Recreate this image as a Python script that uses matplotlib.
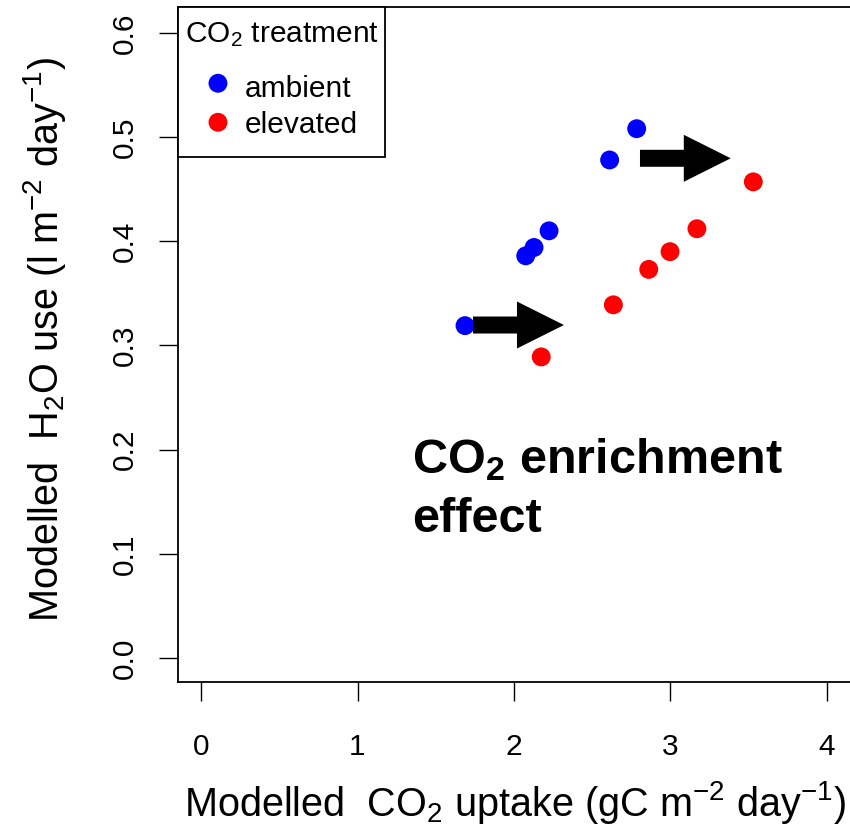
"""Modelled H2O use versus CO2 uptake, ambient vs elevated CO2"""

import matplotlib
matplotlib.use("Agg")
import matplotlib.pyplot as plt
from matplotlib.patches import Rectangle

plt.rcParams['font.family'] = ['Liberation Sans', 'DejaVu Sans']
plt.rcParams['mathtext.fontset'] = 'custom'
plt.rcParams['mathtext.rm'] = 'Liberation Sans'
plt.rcParams['mathtext.it'] = 'Liberation Sans:italic'
plt.rcParams['mathtext.bf'] = 'Liberation Sans:bold'

# data
amb_x = [1.687, 2.075, 2.128, 2.224, 2.611, 2.784]
amb_y = [0.319, 0.386, 0.394, 0.410, 0.478, 0.508]
elev_x = [2.174, 2.635, 2.861, 2.997, 3.169, 3.529]
elev_y = [0.289, 0.339, 0.373, 0.390, 0.412, 0.457]

# enrichment arrows: start x, end x, y
arrow_x0 = [1.738, 2.805]
arrow_x1 = [2.319, 3.385]
arrow_y = [0.3196, 0.4796]

xticks = [0, 1, 2, 3, 4]
yticks = [0.0, 0.1, 0.2, 0.3, 0.4, 0.5, 0.6]

groups = ['ambient', 'elevated']
colours = ['#0000ff', '#ff0000']


def main():
	fig = plt.figure(figsize=(8.5, 8.34), dpi=100)
	ax = fig.add_axes([178/850, 1-682/834, 672/850, 675/834])

	ax.scatter(amb_x, amb_y, s=185, color=colours[0], edgecolors='none', zorder=3)
	ax.scatter(elev_x, elev_y, s=185, color=colours[1], edgecolors='none', zorder=3)

	for x0, x1, y in zip(arrow_x0, arrow_x1, arrow_y):
		ax.arrow(x0, y, x1-x0, 0, width=0.0163, head_width=0.0451, head_length=0.30,
			length_includes_head=True, color='black', linewidth=0, zorder=4)

	ax.text(1.35, 0.177, r'CO$_\mathbf{2}$ enrichment', fontsize=35, fontweight='bold')
	ax.text(1.35, 0.121, 'effect', fontsize=35, fontweight='bold')

	ax.set_xlim(-0.147, 4.147)
	ax.set_ylim(-0.023, 0.6248)
	ax.set_xticks(xticks)
	ax.set_xticklabels([str(t) for t in xticks])
	ax.set_yticks(yticks)
	ax.set_yticklabels(['%.1f' % t for t in yticks], rotation=90, va='center')

	ax.spines['right'].set_visible(False)
	for s in ['left', 'top', 'bottom']:
		ax.spines[s].set_linewidth(1.3)
	ax.tick_params(axis='x', length=14, width=1.0, pad=23, labelsize=21.5, direction='out')
	ax.tick_params(axis='y', length=14, width=1.0, pad=14, labelsize=21.5, direction='out')

	ax.set_xlabel(r'Modelled  CO$_2$ uptake (gC m$^{-2}$ day$^{-1}$)', fontsize=28.5)
	ax.set_ylabel(r'Modelled  H$_2$O use (l m$^{-2}$ day$^{-1}$)', fontsize=28.5)
	ax.xaxis.set_label_coords(0.502, -0.179)
	ax.xaxis.label.set_va('center')
	ax.yaxis.set_label_coords(-0.198, 0.507)
	ax.yaxis.label.set_va('center')

	# legend box, R style (title gap larger than entry gap)
	ax.add_patch(Rectangle((0, 0.7778), 0.308, 0.2222, transform=ax.transAxes,
		facecolor='white', edgecolor='black', linewidth=1.3, zorder=5, clip_on=False))
	ax.text(0.0104, 0.9481, r'CO$_2$ treatment', transform=ax.transAxes,
		fontsize=21.5, ha='left', va='baseline', zorder=6)
	for i, (g, c) in enumerate(zip(groups, colours)):
		ax.scatter([0.0595], [0.887 - i*0.0578], s=185, color=c, edgecolors='none',
			transform=ax.transAxes, zorder=6, clip_on=False)
		ax.text(0.0997, 0.8667 - i*0.0533, g, transform=ax.transAxes,
			fontsize=21.5, ha='left', va='baseline', zorder=6)

	fig.savefig('out.png', dpi=100)


if __name__ == "__main__":
	main()
